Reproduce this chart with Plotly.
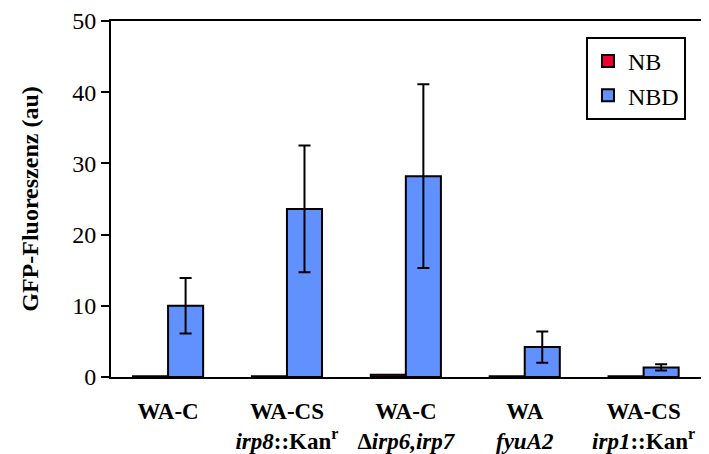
import plotly.graph_objects as go

categories = ["WA-C", "WA-CS irp8::Kanr", "WA-C Δirp6,irp7", "WA fyuA2", "WA-CS irp1::Kanr"]
tick_labels = [
    "<b>WA-C</b><br> ",
    "<b>WA-CS</b><br><b><i>irp8</i>::Kan<sup>r</sup></b>",
    "<b>WA-C</b><br><b>Δ<i>irp6,irp7</i></b>",
    "<b>WA</b><br><b><i>fyuA2</i></b>",
    "<b>WA-CS</b><br><b><i>irp1</i>::Kan<sup>r</sup></b>",
]
nb_values = [0.1, 0.1, 0.3, 0.1, 0.1]
nbd_values = [10.0, 23.6, 28.2, 4.2, 1.35]
nbd_errors = [3.9, 8.9, 12.9, 2.2, 0.45]

x_idx = list(range(len(categories)))

fig = go.Figure()
fig.add_trace(go.Bar(
    x=x_idx, y=nb_values, name="NB",
    marker=dict(color="#F0002C", line=dict(color="black", width=2)),
))
fig.add_trace(go.Bar(
    x=x_idx, y=nbd_values, name="NBD",
    marker=dict(color="#6190FF", line=dict(color="black", width=2)),
    error_y=dict(type="data", array=nbd_errors, visible=True,
                 color="black", thickness=2, width=6),
))

font_family = "Liberation Serif"
# page body has an 8px margin, so the figure is 8px smaller and offset
fig.update_layout(
    template="none",
    width=701, height=446,
    margin=dict(l=103, r=0, t=13, b=77, autoexpand=False),
    paper_bgcolor="white", plot_bgcolor="white",
    barmode="group", bargap=0.41, bargroupgap=0,
    font=dict(family=font_family, size=22, color="black"),
    showlegend=True,
    legend=dict(
        x=0.9615, y=0.955, xanchor="right", yanchor="top",
        bordercolor="black", borderwidth=2, bgcolor="white",
        font=dict(family=font_family, size=24, color="black"),
        tracegroupgap=0, itemwidth=30,
    ),
)
fig.update_xaxes(
    automargin=False,
    range=[-0.48, 4.55],
    tickvals=x_idx, ticktext=tick_labels,
    tickfont=dict(family=font_family, size=23, color="black"),
    showline=True, linecolor="black", linewidth=2, mirror=True,
    ticks="outside", ticklen=12, tickcolor="rgba(0,0,0,0)",
    showgrid=False, zeroline=False,
)
fig.update_yaxes(
    automargin=False,
    range=[0, 50], tickvals=[0, 10, 20, 30, 40, 50],
    tickfont=dict(family=font_family, size=24, color="black"),
    showline=True, linecolor="black", linewidth=2, mirror=False,
    ticks="outside", ticklen=8, tickwidth=2, tickcolor="black",
    showgrid=False, zeroline=False,
    title=dict(text="<b>GFP-Fluoreszenz (au)</b>",
               font=dict(family=font_family, size=24, color="black"),
               standoff=27),
)

fig.write_html("out.html")
